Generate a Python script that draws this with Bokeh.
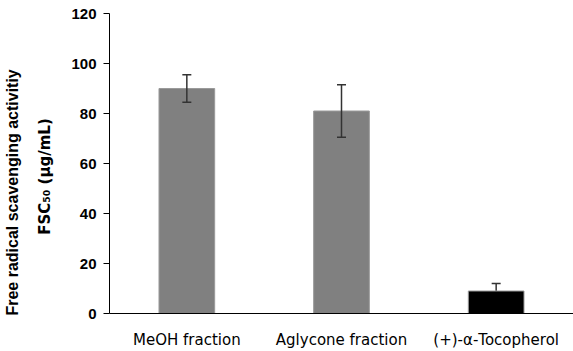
from bokeh.plotting import figure
from bokeh.models import ColumnDataSource, Whisker, TeeHead, FixedTicker, LinearAxis
from bokeh.embed import file_html
from bokeh.resources import INLINE

categories = ["MeOH fraction", "Aglycone fraction", "(+)-\u03b1-Tocopherol"]
values = [90, 81, 9]
errors = [5.5, 10.5, 3]
colors = ["#808080", "#808080", "#000000"]
y_ticks = [0, 20, 40, 60, 80, 100, 120]
label_line1 = "Free radical scavenging activitiy"
label_line2 = "FSC\u2085\u2080 (\u03bcg/mL)"

src = ColumnDataSource(dict(cat=categories, val=values, color=colors))

def whisker_source(idx):
    return ColumnDataSource(dict(
        cat=[categories[i] for i in idx],
        upper=[values[i] + errors[i] for i in idx],
        lower=[values[i] - errors[i] for i in idx],
    ))

p = figure(x_range=categories, y_range=(0, 120), width=573, height=351,
           output_backend="svg", toolbar_location=None,
           min_border_left=0, min_border_right=0, min_border_top=13, min_border_bottom=38)
p.outline_line_color = None
p.xgrid.grid_line_color = None
p.ygrid.grid_line_color = None
p.x_range.range_padding = 0

p.vbar(x="cat", top="val", width=0.36, source=src, fill_color="color",
       line_color="#9a9a9a", line_width=1)

def add_whisker(source, level):
    w = Whisker(base="cat", upper="upper", lower="lower", source=source,
                line_color="#333333", line_width=1.5, level=level,
                upper_head=TeeHead(size=9, line_color="#333333", line_width=1.5),
                lower_head=TeeHead(size=9, line_color="#333333", line_width=1.5))
    p.add_layout(w)

add_whisker(whisker_source([0, 1]), "overlay")
add_whisker(whisker_source([2]), "underlay")

ya = p.yaxis[0]
ya.ticker = FixedTicker(ticks=y_ticks)
ya.minor_tick_line_color = None
ya.major_tick_out = 6
ya.major_tick_in = 0
ya.major_label_text_font = "Liberation Sans"
ya.major_label_text_font_style = "bold"
ya.major_label_text_font_size = "15px"
ya.major_label_text_color = "#000000"
ya.major_label_standoff = 7
ya.axis_line_color = "#000000"
ya.axis_label = label_line2 + "\u00a0" * 5
ya.axis_label_text_font = "DejaVu Sans"
ya.axis_label_text_font_style = "bold"
ya.axis_label_text_font_size = "15px"
ya.axis_label_text_color = "#000000"
ya.axis_label_standoff = 14

outer = LinearAxis(axis_label=label_line1 + "\u00a0" * 13,
                   axis_line_color=None, major_tick_line_color=None,
                   minor_tick_line_color=None, major_label_text_font_size="0px",
                   major_label_standoff=0, axis_label_standoff=13,
                   axis_label_text_font="Liberation Sans",
                   axis_label_text_font_style="bold",
                   axis_label_text_font_size="16px",
                   axis_label_text_color="#000000")
outer.ticker = FixedTicker(ticks=[])
p.add_layout(outer, "left")

xa = p.xaxis[0]
xa.major_tick_line_color = None
xa.minor_tick_line_color = None
xa.major_label_text_font = "DejaVu Sans"
xa.major_label_text_font_size = "15px"
xa.major_label_text_color = "#000000"
xa.major_label_standoff = 11
xa.axis_line_color = "#000000"

open("out.html", "w").write(file_html(p, INLINE))
